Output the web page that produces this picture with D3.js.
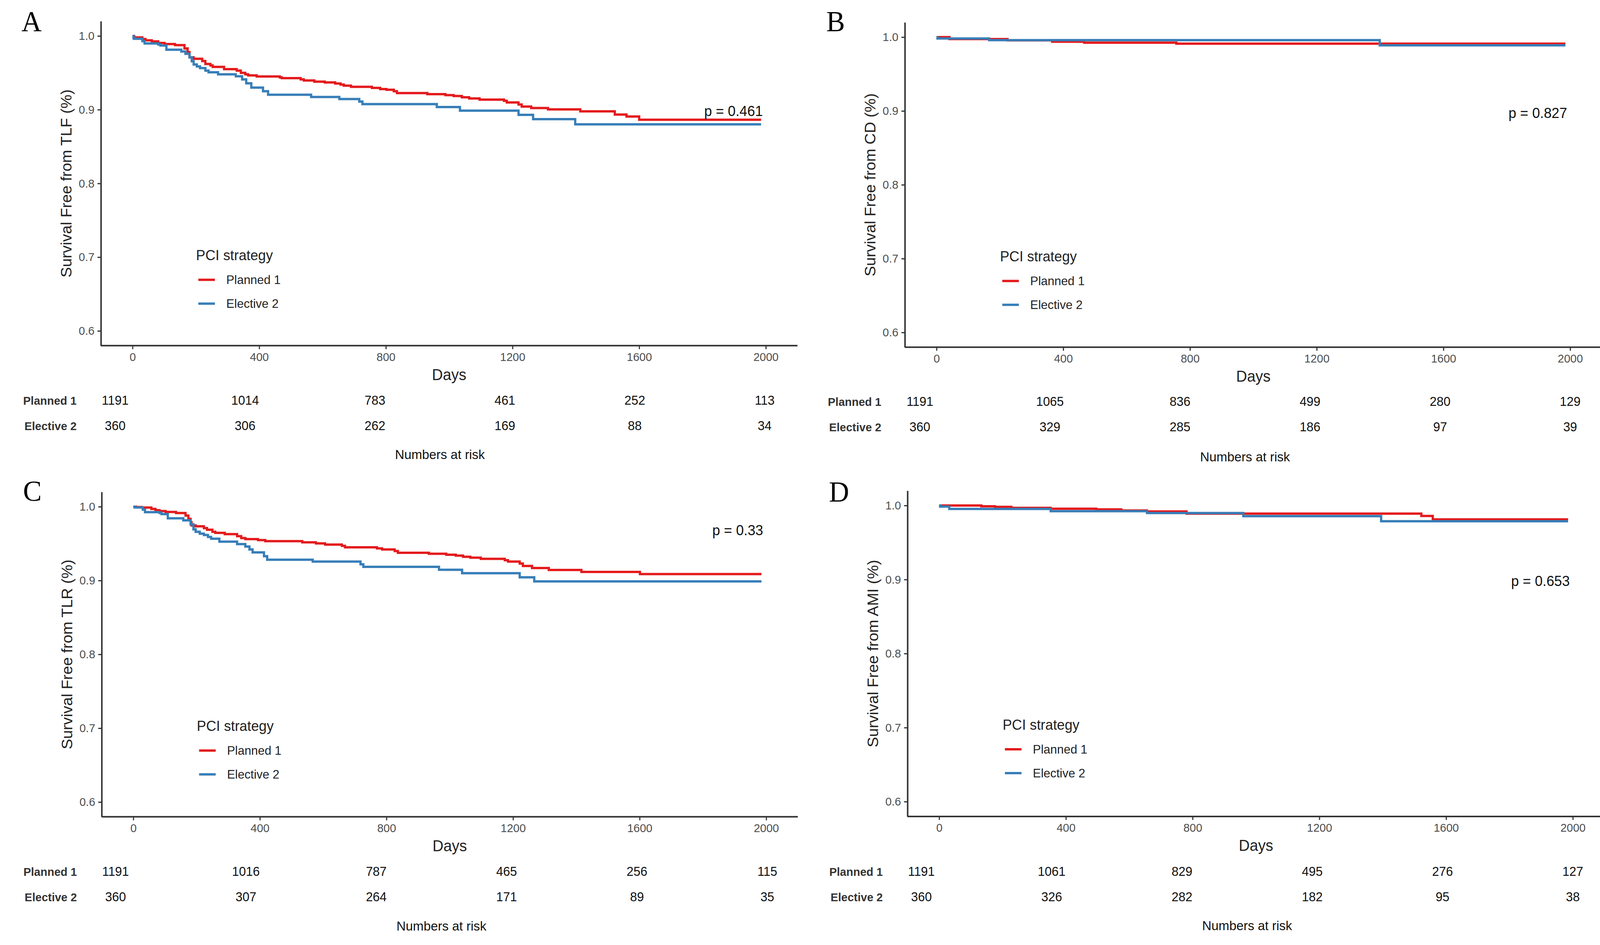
<!DOCTYPE html>
<html>
<head>
<meta charset="utf-8">
<script src="https://cdn.jsdelivr.net/npm/d3@7/dist/d3.min.js"></script>
<style>
  html, body { margin: 0; padding: 0; background: #fff; overflow: hidden; width: 100%; height: 100%; }
  svg { display: block; width: 100vw; height: 100vh; }
  text { font-family: "Liberation Sans", Arial, sans-serif; }
</style>
</head>
<body>
<svg id="chart" viewBox="0 0 4237 2419" preserveAspectRatio="none"></svg>
<script>
// ---------------- DATA ----------------
const dayTicks = [0, 400, 800, 1200, 1600, 2000];
const survTicks = [0.6, 0.7, 0.8, 0.9, 1.0];
const groupNames = ["Planned 1", "Elective 2"];
const legendTitle = "PCI strategy";
const xTitle = "Days";
const riskTitle = "Numbers at risk";
const panelLetters = ["A", "B", "C", "D"];
const yTitles = [
  "Survival Free from TLF (%)",
  "Survival Free from CD (%)",
  "Survival Free from TLR (%)",
  "Survival Free from AMI (%)"
];
const pValueLabels = ["p = 0.461", "p = 0.827", "p = 0.33", "p = 0.653"];
const pValueLevels = [0.898, 0.897, 0.968, 0.898];

// Kaplan-Meier step points [day, survival]
const tlfPlanned = [[0,1.0],[5,0.998],[31,0.9958],[41,0.994],[61,0.9926],[81,0.9905],[101,0.989],[134,0.9876],[164,0.983],[174,0.978],[180,0.971],[193,0.969],[220,0.966],[230,0.962],[246,0.960],[253,0.958],[289,0.955],[329,0.953],[342,0.950],[356,0.948],[365,0.9465],[392,0.945],[465,0.9438],[471,0.9428],[531,0.941],[541,0.9396],[574,0.938],[607,0.937],[640,0.9355],[657,0.934],[667,0.9326],[690,0.931],[756,0.9295],[782,0.928],[802,0.927],[825,0.925],[835,0.9225],[931,0.921],[988,0.9197],[1014,0.9185],[1040,0.9168],[1063,0.9152],[1096,0.9137],[1173,0.912],[1182,0.9098],[1219,0.907],[1229,0.9043],[1259,0.9022],[1312,0.9004],[1414,0.8978],[1523,0.8934],[1560,0.8907],[1600,0.8863],[1985,0.8863]];
const tlfElective = [[0,1.0],[3,0.997],[5,0.9961],[31,0.993],[38,0.9898],[81,0.9885],[88,0.987],[107,0.9813],[154,0.979],[167,0.9758],[180,0.971],[187,0.9657],[193,0.9613],[203,0.9587],[213,0.9564],[230,0.953],[240,0.9507],[270,0.948],[326,0.9453],[346,0.941],[359,0.9357],[375,0.930],[412,0.925],[428,0.9202],[564,0.9172],[653,0.9145],[716,0.911],[726,0.9075],[961,0.9036],[1034,0.8987],[1219,0.893],[1265,0.8872],[1398,0.8801],[1985,0.8801]];
const cdPlanned = [[0,1.0],[41,0.9974],[224,0.9956],[365,0.9938],[466,0.9924],[757,0.9911],[1985,0.9911]];
const cdElective = [[0,1.0],[3,0.9982],[166,0.9959],[1399,0.9889],[1985,0.9889]];
const tlrPlanned = [[0,1.0],[8,0.9995],[27,0.9988],[57,0.997],[70,0.9952],[83,0.994],[102,0.9928],[135,0.9914],[165,0.988],[174,0.9834],[181,0.979],[184,0.9746],[197,0.9734],[223,0.971],[233,0.9688],[250,0.966],[259,0.9645],[289,0.9628],[328,0.960],[341,0.9575],[354,0.9561],[394,0.9547],[417,0.9533],[534,0.9517],[577,0.9503],[606,0.9487],[659,0.947],[669,0.945],[770,0.9435],[786,0.942],[826,0.940],[836,0.9376],[934,0.9363],[989,0.9349],[1019,0.9337],[1042,0.9321],[1065,0.9309],[1098,0.9293],[1174,0.9275],[1184,0.9257],[1221,0.923],[1231,0.9197],[1260,0.9169],[1313,0.9143],[1416,0.9117],[1601,0.9087],[1985,0.9087]];
const tlrElective = [[0,1.0],[4,0.999],[30,0.996],[37,0.9926],[83,0.9915],[89,0.99],[109,0.9843],[158,0.9815],[181,0.976],[190,0.9693],[197,0.966],[210,0.9635],[223,0.9617],[236,0.959],[246,0.9566],[272,0.9526],[328,0.9494],[354,0.946],[367,0.942],[377,0.9381],[413,0.933],[423,0.9282],[567,0.9256],[718,0.922],[727,0.9185],[966,0.9146],[1039,0.9099],[1221,0.9044],[1267,0.8988],[1985,0.8988]];
const amiPlanned = [[0,1.0],[133,0.999],[176,0.9982],[228,0.9968],[352,0.9956],[496,0.9947],[575,0.9933],[656,0.992],[781,0.989],[1522,0.9859],[1558,0.9813],[1985,0.9813]];
const amiElective = [[0,1.0],[3,0.9986],[32,0.9954],[352,0.9924],[656,0.9898],[960,0.9856],[1395,0.9788],[1985,0.9788]];

// Numbers at risk at dayTicks
const tlfRiskPlanned = [1191, 1014, 783, 461, 252, 113];
const tlfRiskElective = [360, 306, 262, 169, 88, 34];
const cdRiskPlanned = [1191, 1065, 836, 499, 280, 129];
const cdRiskElective = [360, 329, 285, 186, 97, 39];
const tlrRiskPlanned = [1191, 1016, 787, 465, 256, 115];
const tlrRiskElective = [360, 307, 264, 171, 89, 35];
const amiRiskPlanned = [1191, 1061, 829, 495, 276, 127];
const amiRiskElective = [360, 326, 282, 182, 95, 38];

// ---------------- LAYOUT / STYLE ----------------
const colors = ["#E41A1C", "#377EB8"];
const panels = [
  { curves: [tlfPlanned, tlfElective], risk: [tlfRiskPlanned, tlfRiskElective],
    letter: [57, 80], x0: 351, x2000: 2028, y1: 92, y06: 847,
    tx0: 305, tx2000: 2025, rows: [1025, 1090, 1163] },
  { curves: [cdPlanned, cdElective], risk: [cdRiskPlanned, cdRiskElective],
    letter: [2188, 80], x0: 2480, x2000: 4158, y1: 95, y06: 851,
    tx0: 2436, tx2000: 4158, rows: [1028, 1093, 1169] },
  { curves: [tlrPlanned, tlrElective], risk: [tlrRiskPlanned, tlrRiskElective],
    letter: [61, 1282], x0: 353, x2000: 2029, y1: 1297, y06: 2053,
    tx0: 306, tx2000: 2032, rows: [2231, 2296, 2370] },
  { curves: [amiPlanned, amiElective], risk: [amiRiskPlanned, amiRiskElective],
    letter: [2195, 1284], x0: 2487, x2000: 4165, y1: 1294, y06: 2052,
    tx0: 2440, tx2000: 4165, rows: [2231, 2296, 2369] }
];

const svg = d3.select("#chart");
svg.append("rect").attr("width", 4237).attr("height", 2419).attr("fill", "#fff");

panels.forEach((p, i) => {
  const g = svg.append("g");
  const x = d3.scaleLinear().domain([0, 2000]).range([p.x0, p.x2000]);
  const y = d3.scaleLinear().domain([0.6, 1]).range([p.y06, p.y1]);
  const yAx = y.copy().domain([0.58, 1.02]).range([y(0.58), y(1.02)]);
  const left = x(-100), bottom = yAx(0.58), top = yAx(1.02);

  // panel letter
  g.append("text").attr("x", p.letter[0]).attr("y", p.letter[1])
    .style("font-family", "'Liberation Serif', 'Times New Roman', serif")
    .attr("font-size", 74).attr("fill", "#000").text(panelLetters[i]);

  // axes
  const ay = g.append("g").attr("transform", `translate(${left},0)`)
    .call(d3.axisLeft(yAx).tickValues(survTicks).tickFormat(d3.format(".1f"))
      .tickSize(9).tickPadding(8).tickSizeOuter(0));
  const ax = g.append("g").attr("transform", `translate(0,${bottom})`)
    .call(d3.axisBottom(x).tickValues(dayTicks).tickFormat(d3.format("d"))
      .tickSize(9).tickPadding(9).tickSizeOuter(0));
  ax.select(".domain").remove();
  ax.append("line").attr("x1", x(-100)).attr("x2", Math.min(x(2100), 4237))
    .attr("y1", 0).attr("y2", 0).attr("stroke", "#333").attr("stroke-width", 4);
  ay.select(".domain").attr("stroke", "#333").attr("stroke-width", 4);
  [ay, ax].forEach(a => {
    a.selectAll(".tick line").attr("stroke", "#333").attr("stroke-width", 3);
    a.selectAll(".tick text").attr("fill", "#4D4D4D").attr("font-size", 30)
      .style("font-family", "'Liberation Sans', Arial, sans-serif");
  });

  // axis titles
  g.append("text").attr("x", (x(-100) + x(2100)) / 2).attr("y", bottom + 88)
    .attr("text-anchor", "middle").attr("font-size", 40).attr("fill", "#222").text(xTitle);
  g.append("text")
    .attr("transform", `translate(${left - 78},${(top + bottom) / 2}) rotate(-90)`)
    .attr("text-anchor", "middle").attr("font-size", 40).attr("fill", "#222").text(yTitles[i]);

  // curves
  const line = d3.line().x(d => x(d[0])).y(d => y(d[1])).curve(d3.curveStepAfter);
  p.curves.forEach((c, k) => {
    g.append("path").datum(c).attr("d", line).attr("fill", "none")
      .attr("stroke", colors[k]).attr("stroke-width", 6).attr("stroke-linejoin", "miter");
  });

  // p-value
  g.append("text").attr("x", x(2000) - 8).attr("y", y(pValueLevels[i]))
    .attr("dominant-baseline", "central").attr("text-anchor", "end")
    .attr("font-size", 37).attr("fill", "#111").text(pValueLabels[i]);

  // legend
  const lg = g.append("g").attr("transform", `translate(${left + 252},${top + 599})`);
  lg.append("text").attr("x", 0).attr("y", 0).attr("dominant-baseline", "central")
    .attr("font-size", 37).attr("fill", "#222").text(legendTitle);
  groupNames.forEach((name, k) => {
    const yy = 63 + k * 61;
    lg.append("line").attr("x1", 6).attr("x2", 50).attr("y1", yy).attr("y2", yy)
      .attr("stroke", colors[k]).attr("stroke-width", 6);
    lg.append("text").attr("x", 80).attr("y", yy).attr("dominant-baseline", "central")
      .attr("font-size", 32).attr("fill", "#222").text(name);
  });

  // risk table
  const tx = d3.scaleLinear().domain([0, 2000]).range([p.tx0, p.tx2000]);
  const tLeft = tx(-100), tRight = tx(2100);
  groupNames.forEach((name, k) => {
    g.append("text").attr("x", tLeft - 16).attr("y", p.rows[k])
      .attr("text-anchor", "end").attr("dominant-baseline", "central")
      .attr("font-size", 30).attr("font-weight", "bold").attr("fill", "#333").text(name);
    g.selectAll(null).data(p.risk[k]).enter().append("text")
      .attr("x", (d, j) => tx(dayTicks[j])).attr("y", p.rows[k])
      .attr("text-anchor", "middle").attr("dominant-baseline", "central")
      .attr("font-size", 33).attr("fill", "#111").text(d => d);
  });
  g.append("text").attr("x", (tLeft + tRight) / 2).attr("y", p.rows[2])
    .attr("text-anchor", "middle").attr("dominant-baseline", "central")
    .attr("font-size", 34).attr("fill", "#111").text(riskTitle);
});
</script>
</body>
</html>
